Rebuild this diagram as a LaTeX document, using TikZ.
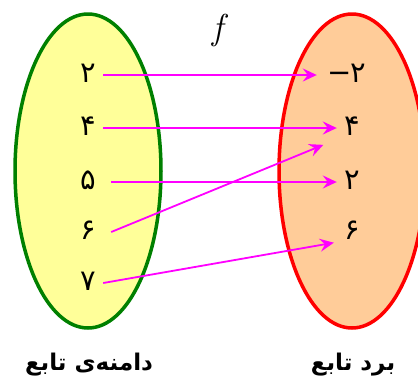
\documentclass[tikz,border=0pt]{standalone}
\usepackage{fontspec}
\TeXXeTstate=1
\newfontfamily\fa[Script=Arabic]{DejaVu Sans}
\usetikzlibrary{arrows.meta}
\definecolor{domfill}{HTML}{FFFF99}
\definecolor{domline}{HTML}{008000}
\definecolor{ranfill}{HTML}{FFCC99}
\definecolor{ranline}{HTML}{FF0000}
\definecolor{arrcol}{HTML}{FF00FF}
\tikzset{
  num/.style={font=\fa\fontsize{29}{32}\selectfont, inner sep=0pt, text height=14pt, text depth=0pt, minimum width=30pt, minimum height=20pt},
  arr/.style={draw=arrcol, line width=1.8pt, -{Stealth[length=14pt,width=13pt,inset=5pt]}},
  title/.style={font=\fa\bfseries\fontsize{23}{26}\selectfont, inner sep=0pt}
}
\begin{document}
\begin{tikzpicture}[x=1pt,y=-1pt]
\useasboundingbox (0,0) rectangle (418,376);
\begin{scope}
\clip (0,0) rectangle (418,376);
\draw[fill=domfill, draw=domline, line width=3.5pt] (88,171) ellipse [x radius=73, y radius=157];
\draw[fill=ranfill, draw=ranline, line width=3.5pt] (352,171) ellipse [x radius=73, y radius=157];
\end{scope}
\node[font=\fontsize{36}{40}\selectfont\itshape, inner sep=0pt] (f) at (218,30) {f};
\node[num] (l2) at (88,75) {۲};
\node[num] (l4) at (88,128) {۴};
\node[num] (l5) at (88,182) {۵};
\node[num] (l6) at (88,232) {۶};
\node[num] (l7) at (88,283) {۷};
\node[num, minimum width=60pt] (rm2) at (347,75) {\fontspec{DejaVu Sans}−\hspace{-1pt}\fa ۲};
\node[num] (r4) at (352,128) {۴};
\node[num] (r2) at (352,182) {۲};
\node[num] (r6) at (352,232) {۶};
\coordinate (t4) at (340,138);
\draw[arr] (l2.east) -- (rm2.west);
\draw[arr] (l4.east) -- (r4.west);
\draw[arr] ([xshift=8pt]l5.east) -- (r2.west);
\draw[arr, shorten >=18pt] ([xshift=8pt]l6.east) -- (t4);
\draw[arr, shorten >=3pt] (l7.east) -- (r6.south west);
\node[title] (dom) at (89,365) {\beginR دامنه‌ی تابع\endR};
\node[title] (ran) at (353,365) {\beginR برد تابع\endR};
\end{tikzpicture}
\end{document}
